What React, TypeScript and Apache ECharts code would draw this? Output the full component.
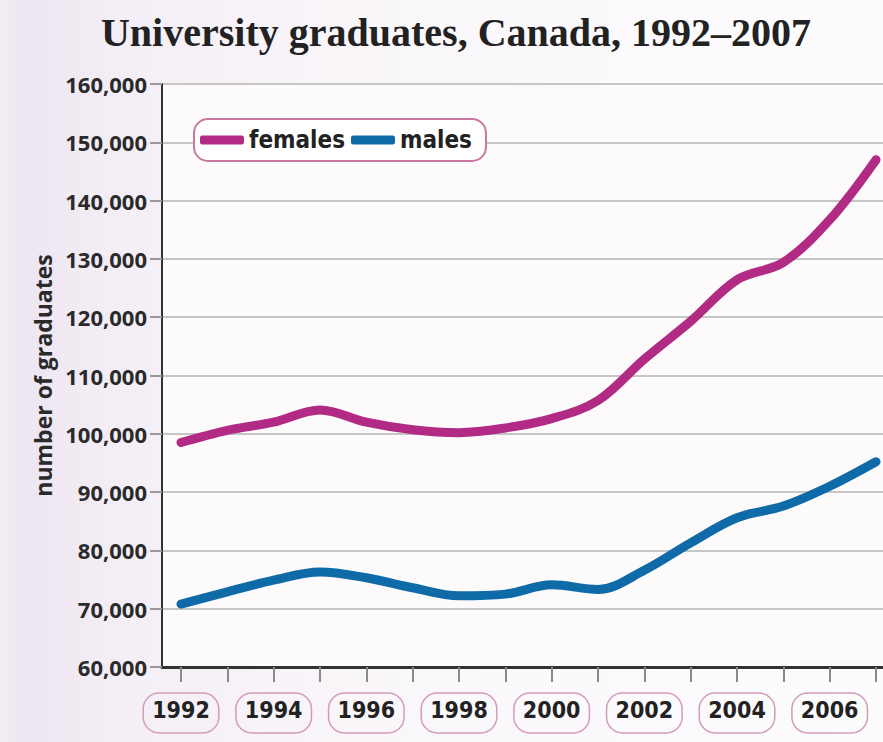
import React, { useEffect, useRef } from "react";
import * as echarts from "echarts";

const years = ["1992", "1993", "1994", "1995", "1996", "1997", "1998", "1999", "2000", "2001", "2002", "2003", "2004", "2005", "2006", "2007"];
const females = [98500, 100600, 102000, 104100, 102000, 100700, 100200, 101000, 102600, 105700, 112800, 119300, 126400, 129400, 136700, 147000];
const males = [70800, 72900, 74900, 76300, 75300, 73600, 72200, 72500, 74100, 73300, 76600, 81300, 85600, 87600, 91000, 95200];
const titleText = "University graduates, Canada, 1992–2007";
const yName = "number of graduates";
const seriesNames = ["females", "males"];
const yMin = 60000;
const yMax = 160000;
const yStep = 10000;

const sans = "'Open Sans', 'DejaVu Sans', sans-serif";
const cond = "'DejaVu Sans Condensed', 'DejaVu Sans', sans-serif";

export default function App() {
  const ref = useRef<HTMLDivElement>(null);
  useEffect(() => {
    if (!ref.current) return;
    const chart = echarts.init(ref.current, null, { renderer: "svg" });
    chart.setOption({
      animation: false,
      backgroundColor: "transparent",
      title: {
        text: titleText,
        left: 456,
        top: 12,
        padding: 0,
        textAlign: "center",
        textStyle: { fontFamily: "'Liberation Serif', serif", fontWeight: "bold", fontSize: 40, color: "#222" },
      },
      legend: {
        data: seriesNames,
        left: 194,
        top: 119,
        icon: "roundRect",
        itemWidth: 44,
        itemHeight: 9,
        itemGap: 6,
        backgroundColor: "#ffffff",
        borderColor: "#c9799f",
        borderWidth: 2,
        borderRadius: 14,
        padding: [9, 14, 9, 6],
        textStyle: { fontFamily: cond, fontWeight: "bold", fontSize: 24, color: "#222" },
      },
      grid: [
        { left: 162, right: 0, top: 84, bottom: 75, show: true, backgroundColor: "#fdfafc", borderWidth: 0 },
        { left: 181, right: 7, top: 84, bottom: 75 },
      ],
      xAxis: [
        {
          type: "value",
          gridIndex: 0,
          min: 0,
          max: 1,
          axisLine: { show: true, onZero: false, lineStyle: { color: "#333", width: 3 } },
          axisTick: { show: false },
          axisLabel: { show: false },
          splitLine: { show: false },
        },
        {
          type: "category",
          gridIndex: 1,
          data: years,
          boundaryGap: false,
          axisLine: { show: false },
          axisTick: { show: true, interval: 0, length: 15, lineStyle: { color: "#8a8a8a", width: 2 } },
          axisLabel: {
            interval: 1,
            margin: 26,
            fontFamily: cond,
            fontWeight: "bold",
            fontSize: 23,
            color: "#222",
            borderColor: "#d39bbb",
            borderWidth: 1.5,
            borderRadius: 16,
            padding: [5, 9, 12, 9],
          },
          splitLine: { show: false },
        },
      ],
      yAxis: [
        {
          type: "value",
          gridIndex: 0,
          min: yMin,
          max: yMax,
          interval: yStep,
          name: yName,
          nameLocation: "middle",
          nameGap: 108,
          nameTextStyle: { fontFamily: sans, fontWeight: "bold", fontSize: 23, color: "#2a2a2a" },
          axisLine: { show: true, onZero: false, lineStyle: { color: "#333", width: 2 } },
          axisTick: { show: true, length: 12, lineStyle: { color: "#9a9a9a", width: 2 } },
          axisLabel: {
            margin: 15,
            fontFamily: sans,
            fontWeight: "bold",
            fontSize: 22,
            color: "#2a2a2a",
            formatter: (v: number) => v.toLocaleString("en-US"),
          },
          splitLine: { show: true, lineStyle: { color: "#c6c6c6", width: 2 } },
        },
        {
          type: "value",
          gridIndex: 1,
          min: yMin,
          max: yMax,
          interval: yStep,
          show: false,
        },
      ],
      series: [
        {
          name: seriesNames[0],
          type: "line",
          xAxisIndex: 1,
          yAxisIndex: 1,
          data: females,
          smooth: 0.35,
          showSymbol: false,
          color: "#b12a84",
          lineStyle: { width: 9, cap: "round", color: "#b12a84" },
        },
        {
          name: seriesNames[1],
          type: "line",
          xAxisIndex: 1,
          yAxisIndex: 1,
          data: males,
          smooth: 0.35,
          showSymbol: false,
          color: "#0e6ba8",
          lineStyle: { width: 9, cap: "round", color: "#0e6ba8" },
        },
      ],
    });
    return () => chart.dispose();
  }, []);
  return (
    <div
      ref={ref}
      style={{
        position: "fixed",
        left: 0,
        top: 0,
        width: 883,
        height: 742,
        background: "linear-gradient(to right, #f3eef5 0%, #eee6f1 3%, #f4eff6 15%, #faf7fa 45%, #fdfcfd 100%)",
      }}
    />
  );
}
